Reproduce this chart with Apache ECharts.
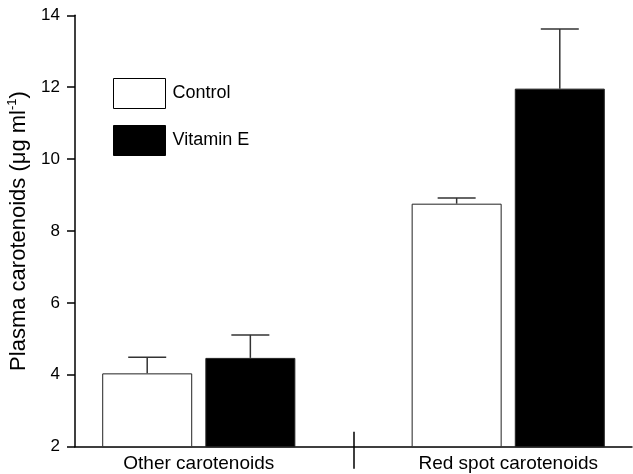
<!DOCTYPE html>
<html>
<head>
<meta charset="utf-8">
<script src="https://cdn.jsdelivr.net/npm/echarts@6/dist/echarts.min.js"></script>
<style>
html,body{margin:0;padding:0;background:#fff;}
#chart{width:633px;height:474px;}
</style>
</head>
<body>
<div id="chart"></div>
<script>
// ---- data ----
const categories = ['Other carotenoids', 'Red spot carotenoids'];
const seriesNames = ['Control', 'Vitamin E'];
const controlMean = [4.04, 8.76];
const controlErr = [0.45, 0.16];
const vitaminEMean = [4.47, 11.96];
const vitaminEErr = [0.64, 1.66];
const yTicks = [2, 4, 6, 8, 10, 12, 14];

// ---- layout helpers (positions of groups along a numeric x scale) ----
const groupStride = 3;           // one empty slot between groups
const barPos = (cat, s) => cat * groupStride + 1 + s;
const groupCenter = cat => cat * groupStride + 1.5;
const dividerPos = groupStride;

const FONT = '"Liberation Sans", Arial, Helvetica, sans-serif';

function barData(means, s) {
  return means.map((v, i) => [barPos(i, s), v]);
}
function errData(means, errs, s) {
  return means.map((v, i) => [barPos(i, s), v, errs[i]]);
}

function renderErr(params, api) {
  const x = api.value(0), v = api.value(1), e = api.value(2);
  const base = api.coord([x, v]);
  const top = api.coord([x, v + e]);
  const half = 19;
  const st = { stroke: '#333', lineWidth: 1.5 };
  return {
    type: 'group',
    children: [
      { type: 'line', shape: { x1: base[0], y1: base[1], x2: top[0], y2: top[1] }, style: st },
      { type: 'line', shape: { x1: top[0] - half, y1: top[1], x2: top[0] + half, y2: top[1] }, style: st }
    ]
  };
}

const chart = echarts.init(document.getElementById('chart'), null, { renderer: 'canvas' });
chart.setOption({
  animation: false,
  backgroundColor: '#fff',
  textStyle: { fontFamily: FONT },
  grid: { left: 75, right: 1, top: 15.3, bottom: 27.3, containLabel: false, outerBoundsMode: 'none' },
  legend: {
    orient: 'vertical',
    left: 113,
    top: 78,
    padding: 0,
    itemWidth: 52,
    itemHeight: 30,
    itemGap: 16,
    selectedMode: false,
    icon: 'rect',
    textStyle: { fontFamily: FONT, fontSize: 18, color: '#000', padding: [0, 0, 0, 2] },
    data: [
      { name: seriesNames[0], itemStyle: { color: '#fff', borderColor: '#000', borderWidth: 1 } },
      { name: seriesNames[1], itemStyle: { color: '#000', borderColor: '#000', borderWidth: 1 } }
    ]
  },
  xAxis: [
    {
      type: 'value',
      min: 0.3,
      max: 5.7,
      axisLine: { show: true, lineStyle: { color: '#000', width: 1.5 } },
      splitLine: { show: false },
      axisTick: { show: true, customValues: [dividerPos], length: 22, inside: false, lineStyle: { color: '#000', width: 1.5 } },
      axisLabel: {
        show: true,
        customValues: categories.map((c, i) => groupCenter(i)),
        formatter: v => categories[Math.round((v - 1.5) / groupStride)] || '',
        fontFamily: FONT,
        fontSize: 19,
        color: '#000',
        margin: 8
      }
    },
    {
      type: 'value',
      min: 0.3,
      max: 5.7,
      position: 'bottom',
      axisLine: { show: false },
      splitLine: { show: false },
      axisLabel: { show: false },
      axisTick: { show: true, customValues: [dividerPos], length: 15, inside: true, lineStyle: { color: '#000', width: 1.5 } }
    }
  ],
  yAxis: {
    type: 'value',
    min: yTicks[0],
    max: yTicks[yTicks.length - 1],
    interval: 2,
    name: '{n|Plasma carotenoids (μg ml}{s|-1}{n|)}',
    nameLocation: 'middle',
    nameGap: 43,
    nameRotate: 90,
    nameTextStyle: {
      fontFamily: FONT,
      color: '#000',
      rich: {
        n: { fontFamily: FONT, fontSize: 22, color: '#000', lineHeight: 26, verticalAlign: 'bottom' },
        s: { fontFamily: FONT, fontSize: 13, color: '#000', lineHeight: 26, verticalAlign: 'top', padding: [2, 0, 0, 0] }
      }
    },
    axisLine: { show: true, lineStyle: { color: '#000', width: 1.5 } },
    axisTick: { show: true, length: 8, inside: false, lineStyle: { color: '#000', width: 1.5 } },
    splitLine: { show: false },
    axisLabel: { fontFamily: FONT, fontSize: 17, color: '#000', margin: 15 }
  },
  series: [
    {
      name: seriesNames[0],
      type: 'bar',
      xAxisIndex: 0,
      barWidth: 90,
      barGap: '-100%',
      itemStyle: { color: '#fff', borderColor: '#222', borderWidth: 1 },
      data: barData(controlMean, 0),
      z: 2
    },
    {
      name: seriesNames[1],
      type: 'bar',
      xAxisIndex: 0,
      barWidth: 90,
      barGap: '-100%',
      itemStyle: { color: '#000', borderColor: '#222', borderWidth: 1 },
      data: barData(vitaminEMean, 1),
      z: 2
    },
    {
      name: 'err-control',
      type: 'custom',
      xAxisIndex: 0,
      renderItem: renderErr,
      data: errData(controlMean, controlErr, 0),
      z: 3
    },
    {
      name: 'err-vitE',
      type: 'custom',
      xAxisIndex: 0,
      renderItem: renderErr,
      data: errData(vitaminEMean, vitaminEErr, 1),
      z: 3
    }
  ]
});
</script>
</body>
</html>
